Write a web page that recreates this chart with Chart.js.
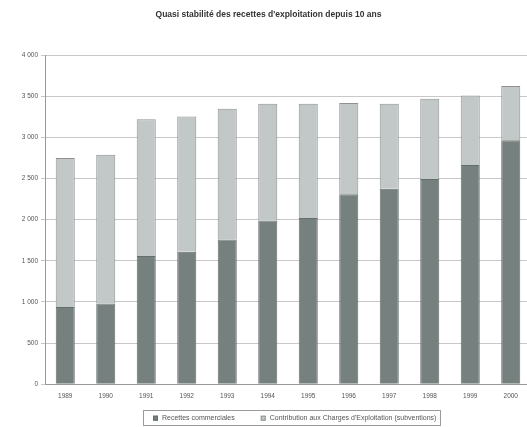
<!DOCTYPE html>
<html>
<head>
<meta charset="utf-8">
<script src="https://cdn.jsdelivr.net/npm/chart.js@4.4.1/dist/chart.umd.min.js"></script>
<style>
  html, body { margin: 0; padding: 0; background: #fff; overflow: hidden; }
  #wrap { width: 540px; height: 427px; }
</style>
</head>
<body>
<div id="wrap"><canvas id="chart" width="540" height="427"></canvas></div>
<script>
'use strict';

/* ── Data ─────────────────────────────────────────────────── */
const years = ['1989', '1990', '1991', '1992', '1993', '1994', '1995', '1996', '1997', '1998', '1999', '2000'];
const recettesCommerciales = [940, 980, 1560, 1610, 1760, 1990, 2020, 2310, 2375, 2495, 2665, 2965];
const contributionCharges = [1810, 1810, 1660, 1645, 1590, 1420, 1390, 1110, 1035, 975, 845, 660];
const yTicks = [0, 500, 1000, 1500, 2000, 2500, 3000, 3500, 4000];

const fmt = v => v >= 1000 ? Math.floor(v / 1000) + ' ' + String(v % 1000).padStart(3, '0') : String(v);

/* ── Framed legend under the axis ─────────────────────────── */
const framedLegend = {
  id: 'framedLegend',
  afterDraw(chart) {
    const ctx = chart.ctx;
    const font = '7px "Liberation Sans"';
    const boxSize = 5, textGap = 4, itemGap = 26;
    const y = chart.chartArea.bottom + 34;   // legend row centre
    ctx.save();
    ctx.font = font;
    let x = 153;
    const left = x - 10;
    chart.data.datasets.forEach(ds => {
      ctx.fillStyle = ds.backgroundColor;
      ctx.fillRect(x, y - boxSize / 2, boxSize, boxSize);
      ctx.strokeStyle = ds.borderColor;
      ctx.lineWidth = 1;
      ctx.strokeRect(x + 0.5, y - boxSize / 2 + 0.5, boxSize - 1, boxSize - 1);
      ctx.fillStyle = '#555';
      ctx.textBaseline = 'middle';
      ctx.fillText(ds.label, x + boxSize + textGap, y);
      x += boxSize + textGap + ctx.measureText(ds.label).width + itemGap;
    });
    const right = x - itemGap + 4;
    ctx.strokeStyle = '#9a9a9a';
    ctx.strokeRect(Math.round(left) + 0.5, Math.round(y - 8) + 0.5, Math.round(right - left), 15);
    ctx.restore();
  }
};

new Chart(document.getElementById('chart'), {
  type: 'bar',
  data: {
    labels: years,
    datasets: [
      {
        label: 'Recettes commerciales',
        data: recettesCommerciales,
        backgroundColor: '#76807e',
        borderColor: '#666e6c',
        borderWidth: 1,
        barPercentage: 0.47,
        categoryPercentage: 1,
      },
      {
        label: "Contribution aux Charges d'Exploitation (subventions)",
        data: contributionCharges,
        backgroundColor: '#c2c7c8',
        borderColor: '#8e9392',
        borderWidth: 1,
        barPercentage: 0.47,
        categoryPercentage: 1,
      }
    ]
  },
  options: {
    responsive: false,
    animation: false,
    layout: { padding: { left: 6, right: 9, top: 6, bottom: 27 } },
    plugins: {
      title: {
        display: true,
        text: "Quasi stabilité des recettes d'exploitation depuis 10 ans",
        color: '#333',
        font: { family: 'Liberation Sans', size: 8.5, weight: 'bold' },
        padding: { top: 4, bottom: 35 }
      },
      legend: { display: false },
      tooltip: { enabled: false }
    },
    scales: {
      x: {
        stacked: true,
        grid: { display: false, drawTicks: true },
        border: { color: '#999' },
        ticks: { color: '#555', font: { family: 'Liberation Sans', size: 6.5 }, padding: 0 }
      },
      y: {
        stacked: true,
        min: 0, max: 4000,
        afterBuildTicks: axis => { axis.ticks = yTicks.map(v => ({ value: v })); },
        afterFit: axis => { axis.width = 39; },
        grid: { color: '#c8c8c8', tickLength: 4 },
        border: { color: '#999' },
        ticks: {
          color: '#555', font: { family: 'Liberation Sans', size: 6.5 },
          callback: v => fmt(v)
        }
      }
    }
  },
  plugins: [framedLegend]
});
</script>
</body>
</html>
